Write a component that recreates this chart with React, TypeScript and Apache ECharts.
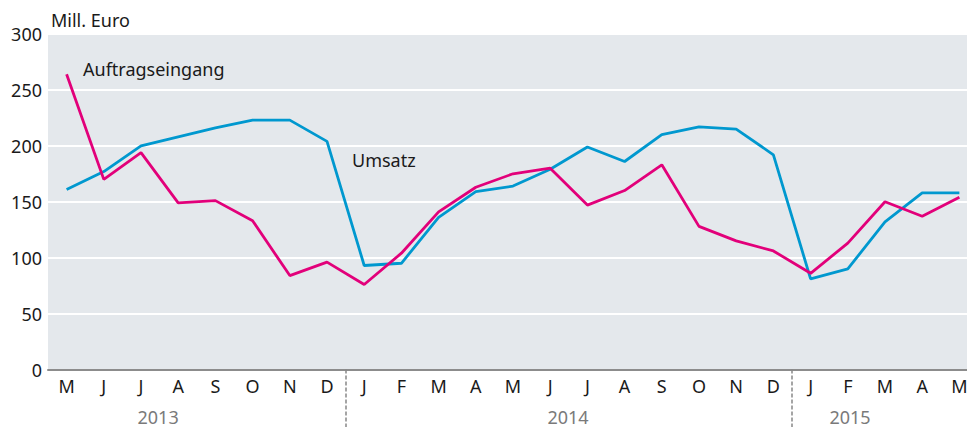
import React, { useEffect, useRef } from "react";
import * as echarts from "echarts";

const months = ["M","J","J","A","S","O","N","D","J","F","M","A","M","J","J","A","S","O","N","D","J","F","M","A","M"];
const auftragseingang = [264,170,194,149,151,133,84,96,76,104,141,163,175,180,147,160,183,128,115,106,86,113,150,137,154];
const umsatz = [161,177,200,208,216,223,223,204,93,95,136,159,164,179,199,186,210,217,215,192,81,90,132,158,158];
const yearLabels = ["2013","2014","2015"];
const yearLabelPos = [2.96, 13.98, 21.56];
const yearBreaks = [8, 20];
const yTicks = [0, 50, 100, 150, 200, 250, 300];

const FONT = "'Noto Sans', 'Open Sans', sans-serif";

export default function App() {
  const ref = useRef<HTMLDivElement>(null);
  useEffect(() => {
    if (!ref.current) return;
    const chart = echarts.init(ref.current, undefined, { renderer: "svg" });
    const n = months.length;
    chart.setOption({
      animation: false,
      textStyle: { fontFamily: FONT },
      grid: { left: 48, right: 0, top: 34, bottom: 57.5, show: true, backgroundColor: "#e4e8ec", borderWidth: 0 },
      xAxis: [
        {
          type: "category",
          data: months,
          boundaryGap: true,
          axisLine: { show: true, lineStyle: { color: "#8c8c8c", width: 2 } },
          axisTick: { show: false },
          axisLabel: { color: "#1a1a1a", fontSize: 18, margin: 7, fontFamily: FONT },
          splitLine: { show: false },
        },
        {
          type: "value",
          min: 0,
          max: n,
          position: "bottom",
          axisLine: { show: false },
          splitLine: { show: false },
          axisTick: {
            show: true,
            customValues: yearBreaks,
            length: 58,
            lineStyle: { color: "#888", width: 1.5, type: [4, 2] },
          },
          axisLabel: {
            customValues: yearLabelPos,
            margin: 38,
            fontSize: 18,
            color: "#7a7a7a",
            fontFamily: FONT,
            formatter: (v: number) => {
              const i = yearLabelPos.findIndex((p) => Math.abs(p - v) < 1e-6);
              return i >= 0 ? yearLabels[i] : "";
            },
          },
        },
      ],
      yAxis: {
        type: "value",
        min: yTicks[0],
        max: yTicks[yTicks.length - 1],
        interval: 50,
        axisLine: { show: false },
        axisTick: { show: false },
        axisLabel: { color: "#1a1a1a", fontSize: 18, margin: 6, fontFamily: FONT },
        splitLine: { show: true, lineStyle: { color: "#ffffff", width: 2 } },
      },
      graphic: [
        { type: "text", left: 51, top: 11, style: { text: "Mill. Euro", fontSize: 18, fill: "#1a1a1a", fontFamily: FONT } },
        { type: "text", left: 83, top: 60, style: { text: "Auftragseingang", fontSize: 18, fill: "#1a1a1a", fontFamily: FONT } },
        { type: "text", left: 352, top: 151, style: { text: "Umsatz", fontSize: 18, fill: "#1a1a1a", fontFamily: FONT } },
      ],
      series: [
        {
          name: "Umsatz",
          type: "line",
          data: umsatz,
          symbol: "none",
          lineStyle: { color: "#0098cf", width: 2.8 },
          z: 2,
        },
        {
          name: "Auftragseingang",
          type: "line",
          data: auftragseingang,
          symbol: "none",
          lineStyle: { color: "#e2007a", width: 2.8 },
          z: 3,
        },
      ],
    });
    return () => chart.dispose();
  }, []);
  return (
    <div style={{ width: 967, height: 427, position: "absolute", left: 0, top: 0, overflow: "hidden" }}>
      <div ref={ref} style={{ width: 978, height: 427 }} />
    </div>
  );
}
